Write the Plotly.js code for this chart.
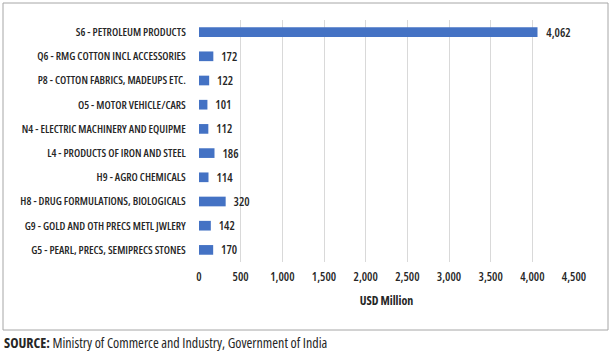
<!DOCTYPE html>
<html><head><meta charset="utf-8">
<script src="https://cdn.plot.ly/plotly-3.0.1.min.js"></script>
<style>
html,body{margin:0;padding:0;background:#fff}
#chart{width:615px;height:355px}
#chart svg text{font-stretch:75%}
</style>
</head><body><div id="chart"></div>
<script>
const categories = [
  "S6 - PETROLEUM PRODUCTS",
  "Q6 - RMG COTTON INCL ACCESSORIES",
  "P8 - COTTON FABRICS, MADEUPS ETC.",
  "O5 - MOTOR VEHICLE/CARS",
  "N4 - ELECTRIC MACHINERY AND EQUIPME",
  "L4 - PRODUCTS OF IRON AND STEEL",
  "H9 - AGRO CHEMICALS",
  "H8 - DRUG FORMULATIONS, BIOLOGICALS",
  "G9 - GOLD AND OTH PRECS METL JWLERY",
  "G5 - PEARL, PRECS, SEMIPRECS STONES"
];
const values = [4062, 172, 122, 101, 112, 186, 114, 320, 142, 170];
const tickValues = [0, 500, 1000, 1500, 2000, 2500, 3000, 3500, 4000, 4500];

const fam = "'Open Sans', sans-serif";
const plotL = 199, plotR = 574, plotT = 20, plotB = 262, W = 615, H = 355;
const pw = plotR - plotL, ph = plotB - plotT;
const px = x => (x - plotL) / pw;
const py = y => (plotB - y) / ph;

const trace = {
  type: 'bar', orientation: 'h',
  x: values, y: categories,
  marker: {color: '#4472c4'},
  texttemplate: '\u00a0%{x:,}',
  textposition: 'outside',
  constraintext: 'none',
  cliponaxis: false,
  textfont: {family: fam, size: 12, color: '#262626', weight: 600},
  hoverinfo: 'none'
};

const layout = {
  width: W, height: H,
  margin: {l: plotL, r: W - plotR, t: plotT, b: H - plotB},
  paper_bgcolor: '#fff', plot_bgcolor: '#fff',
  showlegend: false,
  bargap: 0.6,
  font: {family: fam, color: '#262626'},
  xaxis: {
    range: [0, 4500], tickvals: tickValues, tickformat: ',',
    showgrid: true, gridcolor: '#d9d9d9', gridwidth: 1,
    zeroline: false, showline: false,
    ticks: 'outside', ticklen: 4, tickcolor: 'rgba(0,0,0,0)',
    tickfont: {family: fam, size: 12, color: '#262626', weight: 600},
    title: {text: 'USD Million', font: {family: fam, size: 12, color: '#262626', weight: 700}, standoff: 12},
    fixedrange: true
  },
  yaxis: {
    autorange: 'reversed', type: 'category',
    showgrid: false, zeroline: false, showline: false,
    ticks: 'outside', ticklen: 10, tickcolor: 'rgba(0,0,0,0)',
    tickfont: {family: fam, size: 11, color: '#262626', weight: 600},
    fixedrange: true
  },
  shapes: [{
    type: 'rect', xref: 'paper', yref: 'paper',
    x0: px(3), x1: px(608), y0: py(330), y1: py(3),
    line: {color: '#a6a6a6', width: 1}, fillcolor: 'rgba(0,0,0,0)', layer: 'below'
  }],
  annotations: [{
    xref: 'paper', yref: 'paper', x: px(2), y: py(342),
    xanchor: 'left', yanchor: 'middle', align: 'left', showarrow: false,
    text: '<b>SOURCE:</b> Ministry of Commerce and Industry, Government of India',
    font: {family: fam, size: 14, color: '#262626'}
  }]
};

Plotly.newPlot('chart', [trace], layout, {displayModeBar: false, staticPlot: true});
</script></body></html>
